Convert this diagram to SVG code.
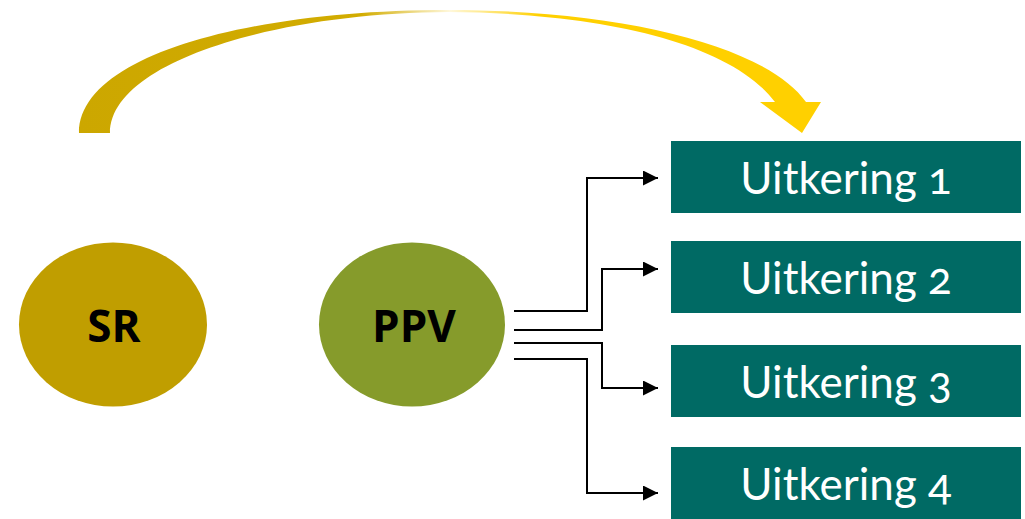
<svg xmlns="http://www.w3.org/2000/svg" width="1025" height="519" viewBox="0 0 1025 519">
<defs>
<style>
.box{fill:#006A64}
.lbl{font-family:Lato,"Open Sans","Liberation Sans",sans-serif;font-size:44px;fill:#ffffff;text-anchor:middle;font-variant-numeric:oldstyle-nums}
.circ{font-family:"Open Sans","Liberation Sans",sans-serif;font-weight:bold;font-size:44px;fill:#000000;text-anchor:middle}
.con{fill:none;stroke:#000000;stroke-width:2}
</style>
<linearGradient id="arcg" gradientUnits="userSpaceOnUse" x1="79" y1="0" x2="821" y2="0">
<stop offset="0" stop-color="#CCA700"/>
<stop offset="0.38" stop-color="#D2AC00"/>
<stop offset="0.5" stop-color="#FFF8DC"/>
<stop offset="0.62" stop-color="#FFD000"/>
<stop offset="1" stop-color="#FFD000"/>
</linearGradient>
<marker id="ah" viewBox="0 0 15 15" refX="15" refY="7.5" markerWidth="15" markerHeight="15" markerUnits="userSpaceOnUse" orient="auto">
<path d="M0,0 L15,7.5 L0,15 Z" fill="#000000"/>
</marker>
</defs>
<rect width="1025" height="519" fill="#ffffff"/>
<g id="arc">
<path d="M79,133 C79,55 250,10 448,10 C620,10 765,45 806,102 L821,102 L802,133 L760,102 L775,102 C730,42 600,13 448,12 C275,13 110,62 110,133 Z" fill="url(#arcg)"/>
</g>
<g id="sr">
<ellipse cx="113" cy="324.5" rx="94" ry="82" fill="#C09E00"/>
<text class="circ" x="114" y="341.5">SR</text>
</g>
<g id="ppv">
<ellipse cx="412" cy="324.5" rx="93" ry="82" fill="#869B2B"/>
<text class="circ" x="414" y="341.5">PPV</text>
</g>
<g id="u1">
<rect class="box" x="671" y="141" width="350" height="72"/>
<text class="lbl" x="846" y="193.5">Uitkering 1</text>
</g>
<g id="u2">
<rect class="box" x="671" y="241" width="350" height="72"/>
<text class="lbl" x="846" y="293.5">Uitkering 2</text>
</g>
<g id="u3">
<rect class="box" x="671" y="345" width="350" height="72"/>
<text class="lbl" x="846" y="397.5">Uitkering 3</text>
</g>
<g id="u4">
<rect class="box" x="671" y="447" width="350" height="72"/>
<text class="lbl" x="846" y="499.5">Uitkering 4</text>
</g>
<g id="connectors">
<path class="con" d="M514,311 H587 V178 H658" marker-end="url(#ah)"/>
<path class="con" d="M514,330 H602 V269 H658" marker-end="url(#ah)"/>
<path class="con" d="M514,343 H602 V388 H658" marker-end="url(#ah)"/>
<path class="con" d="M514,359 H587 V493 H658" marker-end="url(#ah)"/>
</g>
</svg>
